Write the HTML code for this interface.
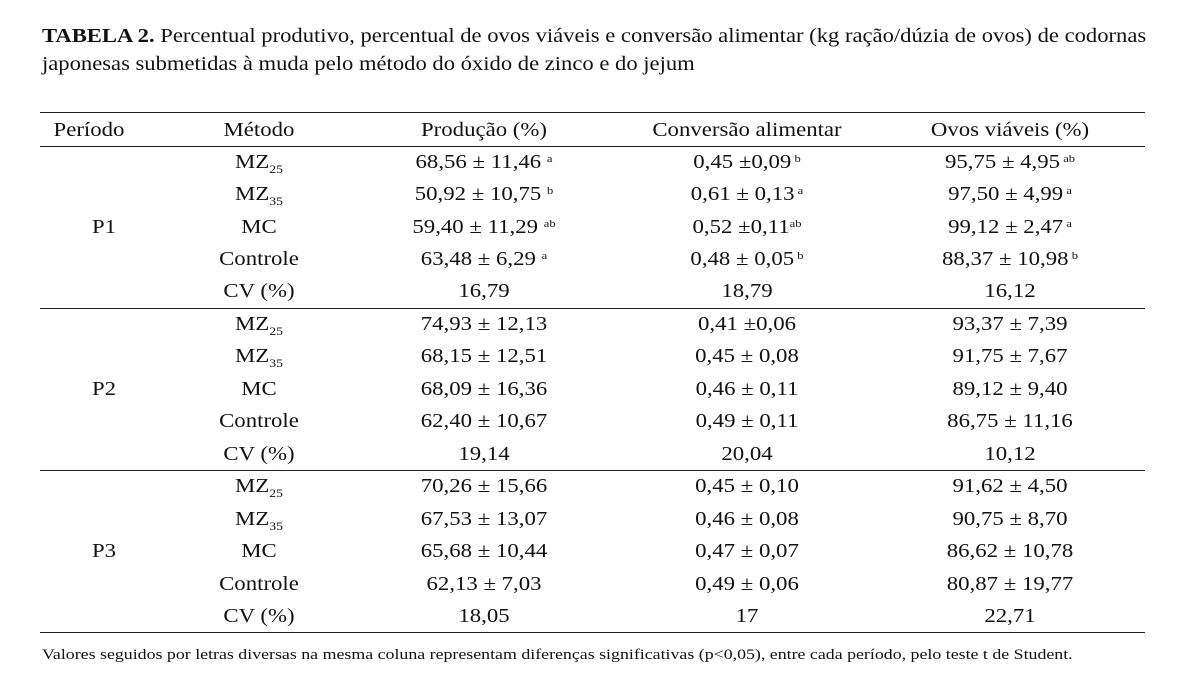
<!DOCTYPE html>
<html><head><meta charset="utf-8"><style>
body{margin:0;width:1202px;height:695px;background:#fff;font-family:"Liberation Serif",serif;color:#111;position:relative;overflow:hidden}
.t{position:absolute;font-size:20px;white-space:nowrap;line-height:20px;transform:translate(-50%,-50%) scaleX(1.14)}
.r{position:absolute;left:40px;width:1105px;height:1px;background:#222}
sub{font-size:12px;vertical-align:-5px;line-height:0}
sup{font-size:11px;vertical-align:6px;line-height:0}
.h{position:absolute;left:42px;font-size:20px;white-space:nowrap;transform-origin:0 0;transform:scaleX(1.13)}
</style></head><body>
<div class="h" style="top:25px"><b>TABELA 2.</b> Percentual produtivo, percentual de ovos viáveis e conversão alimentar (kg ração/dúzia de ovos) de codornas</div>
<div class="h" style="top:53px">japonesas submetidas à muda pelo método do óxido de zinco e do jejum</div>
<div class="r" style="top:112px"></div>
<div class="r" style="top:146px"></div>
<div class="r" style="top:308px"></div>
<div class="r" style="top:470px"></div>
<div class="r" style="top:632px"></div>
<div class="t" style="left:89px;top:130px">Período</div>
<div class="t" style="left:259px;top:130px">Método</div>
<div class="t" style="left:484px;top:130px">Produção (%)</div>
<div class="t" style="left:747px;top:130px">Conversão alimentar</div>
<div class="t" style="left:1010px;top:130px">Ovos viáveis (%)</div>
<div class="t" style="left:104px;top:227px">P1</div>
<div class="t" style="left:104px;top:389px">P2</div>
<div class="t" style="left:104px;top:551px">P3</div>

<div class="t" style="left:259px;top:162px">MZ<sub>25</sub></div>
<div class="t" style="left:484px;top:162px">68,56 ± 11,46 <sup>a</sup></div>
<div class="t" style="left:747px;top:162px">0,45 ±0,09<sup> b</sup></div>
<div class="t" style="left:1010px;top:162px">95,75 ± 4,95<sup> ab</sup></div>
<div class="t" style="left:259px;top:194px">MZ<sub>35</sub></div>
<div class="t" style="left:484px;top:194px">50,92 ± 10,75 <sup>b</sup></div>
<div class="t" style="left:747px;top:194px">0,61 ± 0,13<sup> a</sup></div>
<div class="t" style="left:1010px;top:194px">97,50 ± 4,99<sup> a</sup></div>
<div class="t" style="left:259px;top:227px">MC</div>
<div class="t" style="left:484px;top:227px">59,40 ± 11,29 <sup>ab</sup></div>
<div class="t" style="left:747px;top:227px">0,52 ±0,11<sup>ab</sup></div>
<div class="t" style="left:1010px;top:227px">99,12 ± 2,47<sup> a</sup></div>
<div class="t" style="left:259px;top:259px">Controle</div>
<div class="t" style="left:484px;top:259px">63,48 ± 6,29 <sup>a</sup></div>
<div class="t" style="left:747px;top:259px">0,48 ± 0,05<sup> b</sup></div>
<div class="t" style="left:1010px;top:259px">88,37 ± 10,98<sup> b</sup></div>
<div class="t" style="left:259px;top:291px">CV (%)</div>
<div class="t" style="left:484px;top:291px">16,79</div>
<div class="t" style="left:747px;top:291px">18,79</div>
<div class="t" style="left:1010px;top:291px">16,12</div>

<div class="t" style="left:259px;top:324px">MZ<sub>25</sub></div>
<div class="t" style="left:484px;top:324px">74,93 ± 12,13</div>
<div class="t" style="left:747px;top:324px">0,41 ±0,06</div>
<div class="t" style="left:1010px;top:324px">93,37 ± 7,39</div>
<div class="t" style="left:259px;top:356px">MZ<sub>35</sub></div>
<div class="t" style="left:484px;top:356px">68,15 ± 12,51</div>
<div class="t" style="left:747px;top:356px">0,45 ± 0,08</div>
<div class="t" style="left:1010px;top:356px">91,75 ± 7,67</div>
<div class="t" style="left:259px;top:389px">MC</div>
<div class="t" style="left:484px;top:389px">68,09 ± 16,36</div>
<div class="t" style="left:747px;top:389px">0,46 ± 0,11</div>
<div class="t" style="left:1010px;top:389px">89,12 ± 9,40</div>
<div class="t" style="left:259px;top:421px">Controle</div>
<div class="t" style="left:484px;top:421px">62,40 ± 10,67</div>
<div class="t" style="left:747px;top:421px">0,49 ± 0,11</div>
<div class="t" style="left:1010px;top:421px">86,75 ± 11,16</div>
<div class="t" style="left:259px;top:454px">CV (%)</div>
<div class="t" style="left:484px;top:454px">19,14</div>
<div class="t" style="left:747px;top:454px">20,04</div>
<div class="t" style="left:1010px;top:454px">10,12</div>

<div class="t" style="left:259px;top:486px">MZ<sub>25</sub></div>
<div class="t" style="left:484px;top:486px">70,26 ± 15,66</div>
<div class="t" style="left:747px;top:486px">0,45 ± 0,10</div>
<div class="t" style="left:1010px;top:486px">91,62 ± 4,50</div>
<div class="t" style="left:259px;top:519px">MZ<sub>35</sub></div>
<div class="t" style="left:484px;top:519px">67,53 ± 13,07</div>
<div class="t" style="left:747px;top:519px">0,46 ± 0,08</div>
<div class="t" style="left:1010px;top:519px">90,75 ± 8,70</div>
<div class="t" style="left:259px;top:551px">MC</div>
<div class="t" style="left:484px;top:551px">65,68 ± 10,44</div>
<div class="t" style="left:747px;top:551px">0,47 ± 0,07</div>
<div class="t" style="left:1010px;top:551px">86,62 ± 10,78</div>
<div class="t" style="left:259px;top:584px">Controle</div>
<div class="t" style="left:484px;top:584px">62,13 ± 7,03</div>
<div class="t" style="left:747px;top:584px">0,49 ± 0,06</div>
<div class="t" style="left:1010px;top:584px">80,87 ± 19,77</div>
<div class="t" style="left:259px;top:616px">CV (%)</div>
<div class="t" style="left:484px;top:616px">18,05</div>
<div class="t" style="left:747px;top:616px">17</div>
<div class="t" style="left:1010px;top:616px">22,71</div>

<div style="position:absolute;left:42px;top:647px;font-size:15px;white-space:nowrap;transform-origin:0 0;transform:scaleX(1.19)">Valores seguidos por letras diversas na mesma coluna representam diferenças significativas (p&lt;0,05), entre cada período, pelo teste t de Student.</div>
</body></html>
